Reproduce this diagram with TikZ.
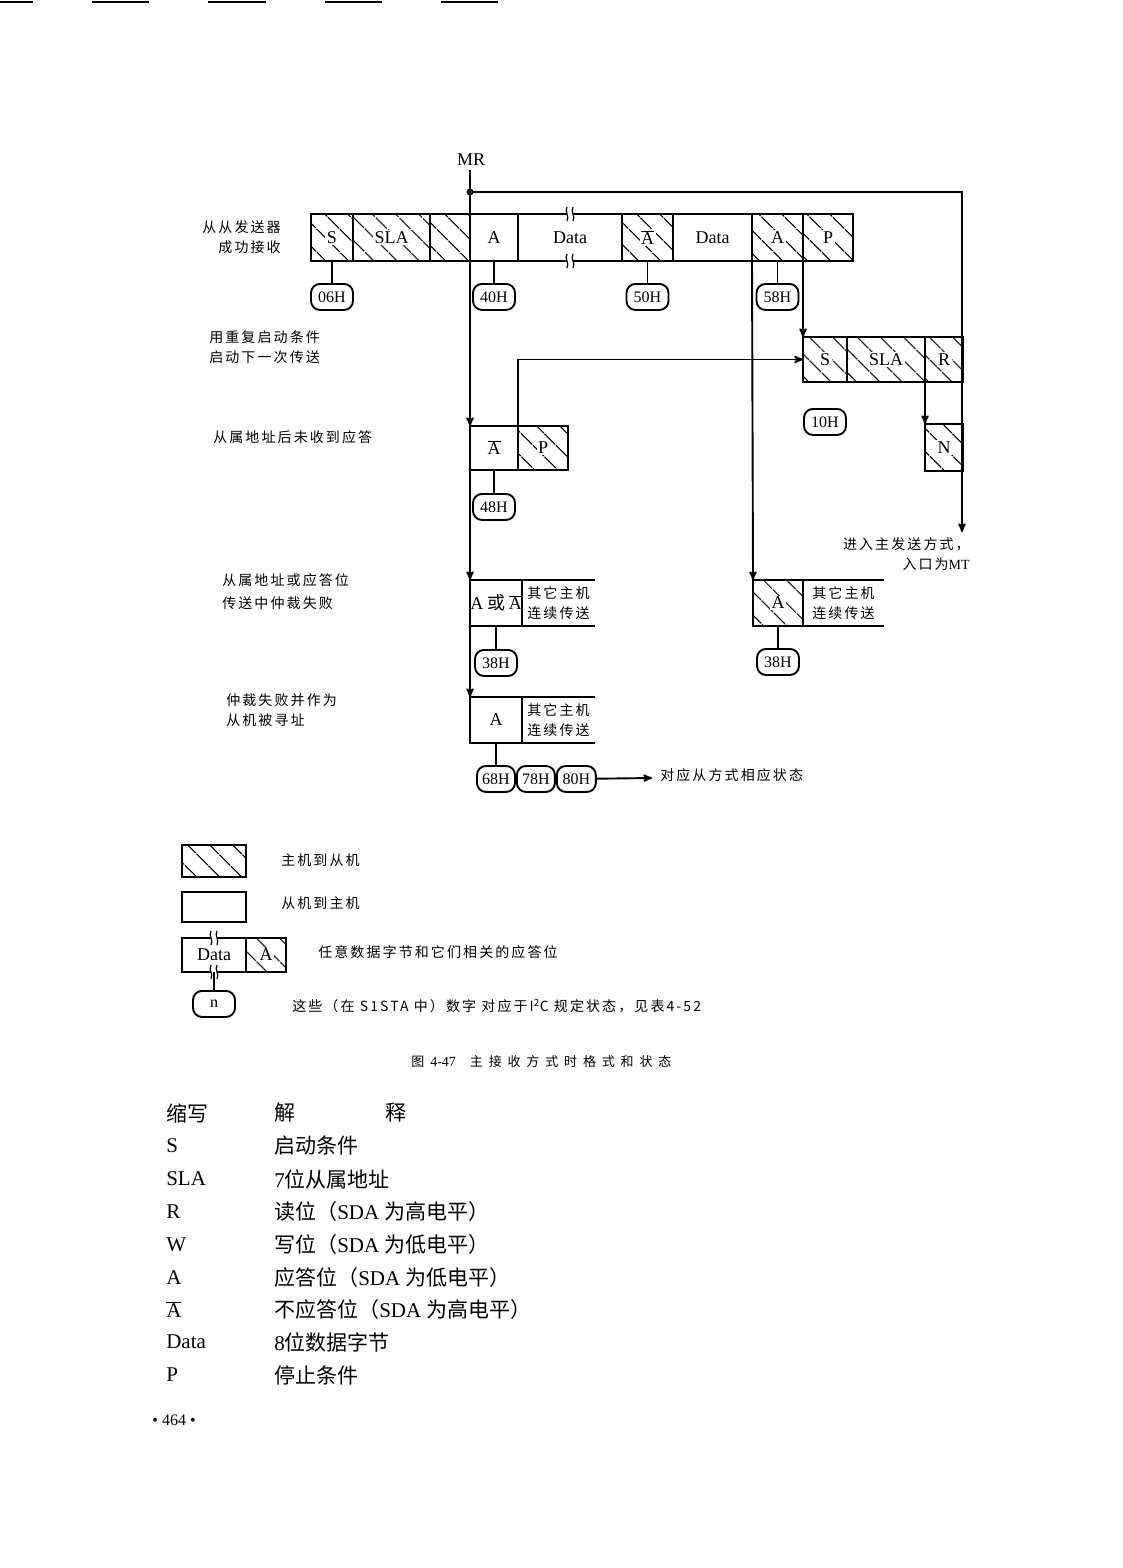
\documentclass[tikz,border=0pt]{standalone}
\usepackage{fontspec}
\setmainfont{Liberation Serif}
\newfontfamily\cjk[LetterSpace=15]{Noto Sans CJK SC}
\newfontfamily\cjkt{Noto Sans CJK SC}
\usepackage{tikz}
\usetikzlibrary{arrows,positioning,patterns.meta}

\newcommand\Abar{$\overline{\mbox{A}}$}
\newcommand\brkmark[1]{%
  \begin{scope}[shift={(#1)},line width=1.2pt]
    \fill[white] (-3,-5) rectangle (3,5);
    \draw (-3,-7) .. controls (-6,-2) and (0,2) .. (-3,7);
    \draw (3,-7) .. controls (0,-2) and (6,2) .. (3,7);
  \end{scope}}

\begin{document}
\begin{tikzpicture}[x=1pt,y=-1pt,>=stealth',line width=1.9pt,
    font=\fontsize{18}{21}\selectfont,
    box/.style={draw,outer sep=0pt,inner sep=0pt,minimum height=46pt},
    hcell/.style={box,pattern={Lines[angle=-45,distance=17pt,line width=1.4pt]}},
    wcell/.style={box},
    wd/.style={minimum width=#1},
    ht/.style={minimum height=#1},
    tag/.style={fill=white,inner sep=1.5pt},
    stat/.style={draw,rounded corners=9pt,minimum width=42pt,minimum height=26pt,
      inner sep=1pt,font=\fontsize{16}{18}\selectfont},
    note/.style={font=\cjk\fontsize{14}{20}\selectfont,align=left},
    other/.style={note,outer sep=0pt,inner sep=2pt,minimum height=46pt},
    tab/.style={font=\fontsize{21}{24}\selectfont,anchor=west}]
  \useasboundingbox (0,0) rectangle (1122,1568);
  % scan marks at the top of the page
  \draw[line width=2pt] (0,2) -- (33,2) (92,2) -- (149,2) (208,2) -- (266,2)
    (325,2) -- (382,2) (441,2) -- (498,2);

  % first transfer
  \node (mr) at (471,160) {MR};
  \node[hcell,wd=42pt,ht=47pt,anchor=north west,label={[tag]center:S}] (s1) at (311,214) {};
  \node[hcell,wd=77pt,ht=47pt,right=0pt of s1,label={[tag]center:SLA}] (sla1) {};
  \node[hcell,wd=40pt,ht=47pt,right=0pt of sla1] (rw1) {};
  \node[wcell,wd=48pt,ht=47pt,right=0pt of rw1] (a1) {A};
  \node[wcell,wd=104pt,ht=47pt,right=0pt of a1] (d1) {Data};
  \node[hcell,wd=51pt,ht=47pt,right=0pt of d1,label={[tag]center:\Abar}] (na1) {};
  \node[wcell,wd=79pt,ht=47pt,right=0pt of na1] (d2) {Data};
  \node[hcell,wd=51pt,ht=47pt,right=0pt of d2,label={[tag]center:A}] (a2) {};
  \node[hcell,wd=50pt,ht=47pt,right=0pt of a2,label={[tag]center:P}] (p1) {};
  \brkmark{d1.north}
  \brkmark{d1.south}

  \node[stat,below=22pt of s1] (o06) {06H};
  \node[stat,below=22pt of a1] (o40) {40H};
  \node[stat,below=22pt of na1] (o50) {50H};
  \node[stat,below=22pt of a2] (o58) {58H};
  \draw (s1.south) -- (o06.north);
  \draw (a1.south) -- (o40.north);
  \draw (na1.south) -- (o50.north);
  \draw (a2.south) -- (o58.north);

  % repeated start
  \node[hcell,wd=44pt,ht=45pt,anchor=north west,label={[tag]center:S}] (s2) at (803,337) {};
  \node[hcell,wd=78pt,ht=45pt,right=0pt of s2,label={[tag]center:SLA}] (sla2) {};
  \node[hcell,wd=38pt,ht=45pt,right=0pt of sla2,label={[tag]center:R}] (r2) {};
  \node[stat,below=26pt of s2] (o10) {10H};
  \node[hcell,wd=38pt,ht=47pt,below=42pt of r2,label={[tag]center:N}] (n1) {};
  \draw[->] (p1.south west) -- (s2.north west);
  \draw[->] (r2.south west) -- (n1.north west);

  % no acknowledge after address
  \node[wcell,wd=48pt,ht=44pt,anchor=north west] (na3) at (470,426) {\Abar};
  \node[hcell,wd=50pt,ht=44pt,right=0pt of na3,label={[tag]center:P}] (p3) {};
  \node[stat,below=23pt of na3] (o48) {48H};
  \draw (na3.south) -- (o48.north);
  \draw[->] (p3.north west) |- (s2.west);

  % arbitration lost
  \node[wcell,wd=52pt,anchor=north west] (ao4) at (470,580) {A {\cjk 或}\,\Abar};
  \node[other,wd=73pt,right=0pt of ao4] (oth4) {其它主机\\连续传送};
  \draw (oth4.north west) -- (oth4.north east) (oth4.south west) -- (oth4.south east);
  \node[stat,below=23pt of ao4] (o38a) {38H};
  \draw (ao4.south) -- (o38a.north);

  \node[hcell,wd=50pt,anchor=north west,label={[tag]center:A}] (a6) at (753,580) {};
  \node[other,wd=81pt,right=0pt of a6] (oth6) {其它主机\\连续传送};
  \draw (oth6.north west) -- (oth6.north east) (oth6.south west) -- (oth6.south east);
  \node[stat,below=22pt of a6] (o38b) {38H};
  \draw (a6.south) -- (o38b.north);
  \draw[->] (a2.south west) -- (a6.north west);

  % addressed as slave
  \node[wcell,wd=52pt,anchor=north west] (a5) at (470,697) {A};
  \node[other,wd=73pt,right=0pt of a5] (oth5) {其它主机\\连续传送};
  \draw (oth5.north west) -- (oth5.north east) (oth5.south west) -- (oth5.south east);
  \node[stat,wd=38pt,below=22pt of a5] (o68) {68H};
  \node[stat,wd=38pt,right=0pt of o68] (o78) {78H};
  \node[stat,wd=39pt,right=0pt of o78] (o80) {80H};
  \draw (a5.south) -- (o68.north);
  \coordinate (slv) at (652,778);
  \draw[->] (o80) -- (slv);
  \node[note,anchor=west] (tslv) at (656,775) {对应从方式相应状态};

  % MR line and loop back to master transmitter
  \coordinate (mrdot) at (470,192);
  \coordinate (mt) at (962,532);
  \draw (mr.south -| rw1.east) -- (rw1.north east);
  \draw[->] (rw1.south east) -- (na3.north west);
  \draw[->] (na3.south west) -- (ao4.north west);
  \draw[->] (ao4.south west) -- (a5.north west);
  \draw[->] (mrdot) -| (mt);
  \fill (mrdot) circle (3.5pt);
  \node[note,align=right,anchor=north east] (tmt) at (974,533) {进入主发送方式，\\入口为{\rmfamily MT}};

  % row captions
  \node[note,align=right,anchor=east] (t1) at (285,237) {从从发送器\\成功接收};
  \node[note,anchor=west] (t2) at (205,347) {用重复启动条件\\启动下一次传送};
  \node[note,anchor=west] (t3) at (209,437) {从属地址后未收到应答};
  \node[note,anchor=west] (t4) at (218,592) {从属地址或应答位\\[3pt]传送中仲裁失败};
  \node[note,anchor=west] (t5) at (222,710) {仲裁失败并作为\\从机被寻址};

  % legend
  \node[hcell,wd=64pt,ht=32pt,anchor=north west] (lg1) at (182,845) {};
  \node[note,anchor=west] (tl1) at (277,860) {主机到从机};
  \node[wcell,wd=64pt,ht=30pt,anchor=north west] (lg2) at (182,892) {};
  \node[note,anchor=west] (tl2) at (277,903) {从机到主机};
  \node[wcell,wd=64pt,ht=34pt,anchor=north west] (lg3) at (182,938) {Data};
  \node[hcell,wd=40pt,ht=34pt,right=0pt of lg3,label={[tag]center:A}] (lg3a) {};
  \brkmark{lg3.north}
  \brkmark{lg3.south}
  \node[note,anchor=west] (tl3) at (314,952) {任意数据字节和它们相关的应答位};
  \node[stat,below=18pt of lg3] (lgn) {n};
  \draw (lg3.south) -- (lgn.north);
  \node[note,anchor=west] (tl4) at (288,1006) {这些（在 S1STA 中）数字 对应于I\textsuperscript{2}C 规定状态，见表4-52};
  \node[note,anchor=west,font=\cjk\fontsize{13}{18}\selectfont\addfontfeature{LetterSpace=45}] (cap) at (407,1062) {图\hspace{6pt}{\rmfamily\fontsize{14}{18}\selectfont 4-47}\hspace{14pt}主接收方式时格式和状态};

  % abbreviations
  \node[tab] (k0) at (162,1113) {\cjkt 缩写};
  \node[tab] (v0) at (270,1113) {\cjkt 解\hspace{90pt}释};
  \node[tab] (k1) at (162,1146) {S};
  \node[tab] (v1) at (270,1146) {\cjkt 启动条件};
  \node[tab] (k2) at (162,1179) {SLA};
  \node[tab] (v2) at (270,1179) {7{\cjkt 位从属地址}};
  \node[tab] (k3) at (162,1212) {R};
  \node[tab] (v3) at (270,1212) {{\cjkt 读位（}SDA {\cjkt 为高电平）}};
  \node[tab] (k4) at (162,1245) {W};
  \node[tab] (v4) at (270,1245) {{\cjkt 写位（}SDA {\cjkt 为低电平）}};
  \node[tab] (k5) at (162,1278) {A};
  \node[tab] (v5) at (270,1278) {{\cjkt 应答位（}SDA {\cjkt 为低电平）}};
  \node[tab] (k6) at (162,1310) {\Abar};
  \node[tab] (v6) at (270,1310) {{\cjkt 不应答位（}SDA {\cjkt 为高电平）}};
  \node[tab] (k7) at (162,1342) {Data};
  \node[tab] (v7) at (270,1342) {8{\cjkt 位数据字节}};
  \node[tab] (k8) at (162,1375) {P};
  \node[tab] (v8) at (270,1375) {\cjkt 停止条件};
  \node[font=\fontsize{16}{18}\selectfont] (pg) at (174,1420) {\textbullet\ 464 \textbullet};
\end{tikzpicture}
\end{document}
